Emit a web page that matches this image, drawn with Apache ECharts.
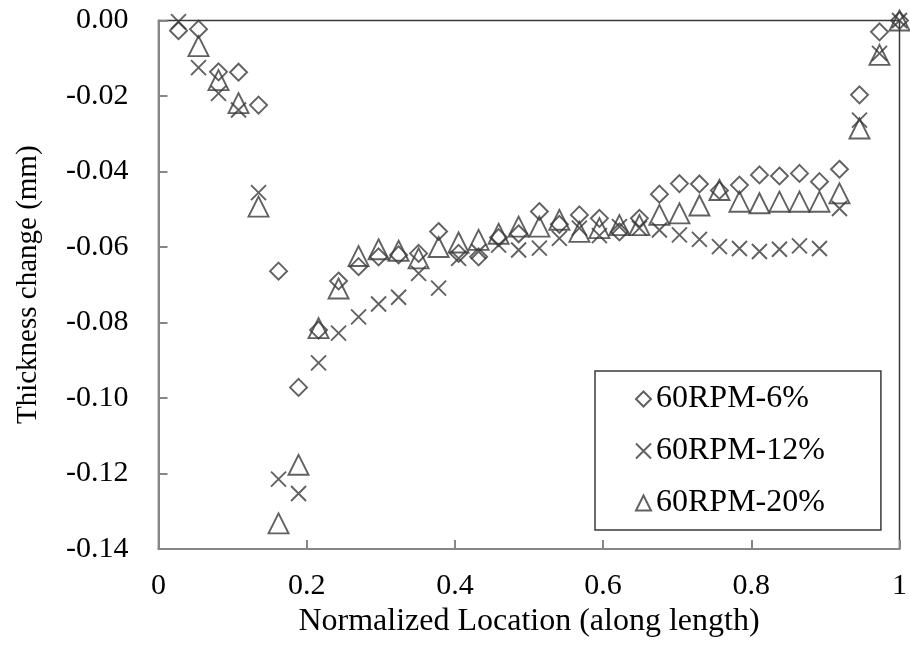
<!DOCTYPE html>
<html>
<head>
<meta charset="utf-8">
<script src="https://cdn.jsdelivr.net/npm/echarts@6/dist/echarts.min.js"></script>
<style>
  html, body { margin: 0; padding: 0; background: #fff; }
  #chart { width: 910px; height: 656px; }
</style>
</head>
<body>
<div id="chart"></div>
<script>
// Normalized measurement locations along the part length
const locations = [0.027, 0.054, 0.081, 0.108, 0.135, 0.162, 0.189, 0.216, 0.243, 0.270,
  0.297, 0.324, 0.351, 0.378, 0.405, 0.432, 0.459, 0.486, 0.514, 0.541,
  0.568, 0.595, 0.622, 0.649, 0.676, 0.703, 0.730, 0.757, 0.784, 0.811,
  0.838, 0.865, 0.892, 0.919, 0.946, 0.973, 1.000];

// Thickness change (mm) for each run
const rpm60_6 = [-0.0027, -0.0023, -0.0136, -0.0137, -0.0224, -0.0664, -0.0972, -0.0820, -0.0690, -0.0652,
  -0.0626, -0.0621, -0.0617, -0.0559, -0.0617, -0.0626, -0.0575, -0.0565, -0.0506, -0.0540,
  -0.0515, -0.0524, -0.0560, -0.0524, -0.0460, -0.0432, -0.0433, -0.0450, -0.0436, -0.0409,
  -0.0412, -0.0405, -0.0427, -0.0394, -0.0197, -0.0030, 0.0000];

const rpm60_12 = [-0.0003, -0.0125, -0.0193, -0.0237, -0.0456, -0.1215, -0.1253, -0.0907, -0.0828, -0.0785,
  -0.0751, -0.0733, -0.0670, -0.0709, -0.0630, -0.0612, -0.0595, -0.0608, -0.0603, -0.0577,
  -0.0550, -0.0570, -0.0546, -0.0550, -0.0555, -0.0568, -0.0580, -0.0599, -0.0604, -0.0612,
  -0.0606, -0.0597, -0.0604, -0.0498, -0.0264, -0.0087, 0.0000];

const rpm60_20 = [null, -0.0068, -0.0158, -0.0219, -0.0493, -0.1332, -0.1177, -0.0815, -0.0710, -0.0624,
  -0.0606, -0.0610, -0.0630, -0.0600, -0.0588, -0.0581, -0.0565, -0.0546, -0.0546, -0.0528,
  -0.0560, -0.0550, -0.0542, -0.0542, -0.0515, -0.0511, -0.0490, -0.0449, -0.0480, -0.0484,
  -0.0480, -0.0480, -0.0480, -0.0458, -0.0286, -0.0091, 0.0000];

const seriesNames = ['60RPM-6%', '60RPM-12%', '60RPM-20%'];

// Axis ranges and tick steps
const xMin = 0, xMax = 1, xStep = 0.2;
const yMin = -0.14, yMax = 0, yStep = 0.02;

const ink = '#3a3a3a';
const axisGrey = '#868686';
const fontFamily = '"Liberation Serif", "Times New Roman", serif';
const crossPath = 'path://M0,0L10,10M10,0L0,10';

function pairs(values) {
  const out = [];
  values.forEach((v, k) => { if (v !== null) out.push([locations[k], v]); });
  return out;
}

function markerSeries(name, values, symbol, size) {
  return {
    name: name,
    type: 'scatter',
    data: pairs(values),
    symbol: symbol,
    symbolSize: size,
    itemStyle: { color: 'transparent', borderColor: ink, borderWidth: 1.9 },
    emphasis: { disabled: true },
    z: 3
  };
}

const chart = echarts.init(document.getElementById('chart'), null, { renderer: 'canvas' });

chart.setOption({
  animation: false,
  backgroundColor: '#ffffff',
  textStyle: { fontFamily: fontFamily, color: '#000' },
  grid: {
    left: 158.5, right: 7, top: 20.5, bottom: 107,
    show: true, borderColor: ink, borderWidth: 1.5, backgroundColor: 'transparent'
  },
  legend: {
    orient: 'vertical',
    left: 595, top: 371,
    padding: [12, 56, 11, 40],
    itemGap: 20,
    itemWidth: 15, itemHeight: 15,
    borderColor: ink, borderWidth: 1.5,
    backgroundColor: '#fff',
    textStyle: { fontFamily: fontFamily, fontSize: 32, color: '#000', lineHeight: 30 },
    data: [
      { name: seriesNames[0], icon: 'diamond' },
      { name: seriesNames[1], icon: crossPath },
      { name: seriesNames[2], icon: 'triangle' }
    ]
  },
  xAxis: {
    type: 'value',
    min: xMin, max: xMax, interval: xStep,
    name: 'Normalized Location (along length)',
    nameLocation: 'middle',
    nameGap: 55,
    nameTextStyle: { fontFamily: fontFamily, fontSize: 32, color: '#000' },
    axisLine: { show: true, onZero: false, lineStyle: { color: axisGrey, width: 2 } },
    axisTick: { show: true, inside: true, length: 9, lineStyle: { color: axisGrey, width: 2 } },
    axisLabel: {
      margin: 22, fontSize: 30, color: '#000', fontFamily: fontFamily,
      formatter: v => (Math.abs(v) < 1e-9 ? '0' : Math.abs(v - 1) < 1e-9 ? '1' : v.toFixed(1))
    },
    splitLine: { show: false }
  },
  yAxis: {
    type: 'value',
    min: yMin, max: yMax, interval: yStep,
    name: 'Thickness change (mm)',
    nameLocation: 'middle',
    nameGap: 116,
    nameTextStyle: { fontFamily: fontFamily, fontSize: 29, color: '#000' },
    axisLine: { show: true, onZero: false, lineStyle: { color: axisGrey, width: 2 } },
    axisTick: { show: true, inside: true, length: 9, lineStyle: { color: axisGrey, width: 2 } },
    axisLabel: {
      margin: 30, fontSize: 30, color: '#000', fontFamily: fontFamily,
      formatter: v => v.toFixed(2)
    },
    splitLine: { show: false }
  },
  series: [
    markerSeries(seriesNames[0], rpm60_6, 'diamond', 17),
    markerSeries(seriesNames[1], rpm60_12, crossPath, 15),
    markerSeries(seriesNames[2], rpm60_20, 'triangle', 20)
  ]
});
</script>
</body>
</html>
